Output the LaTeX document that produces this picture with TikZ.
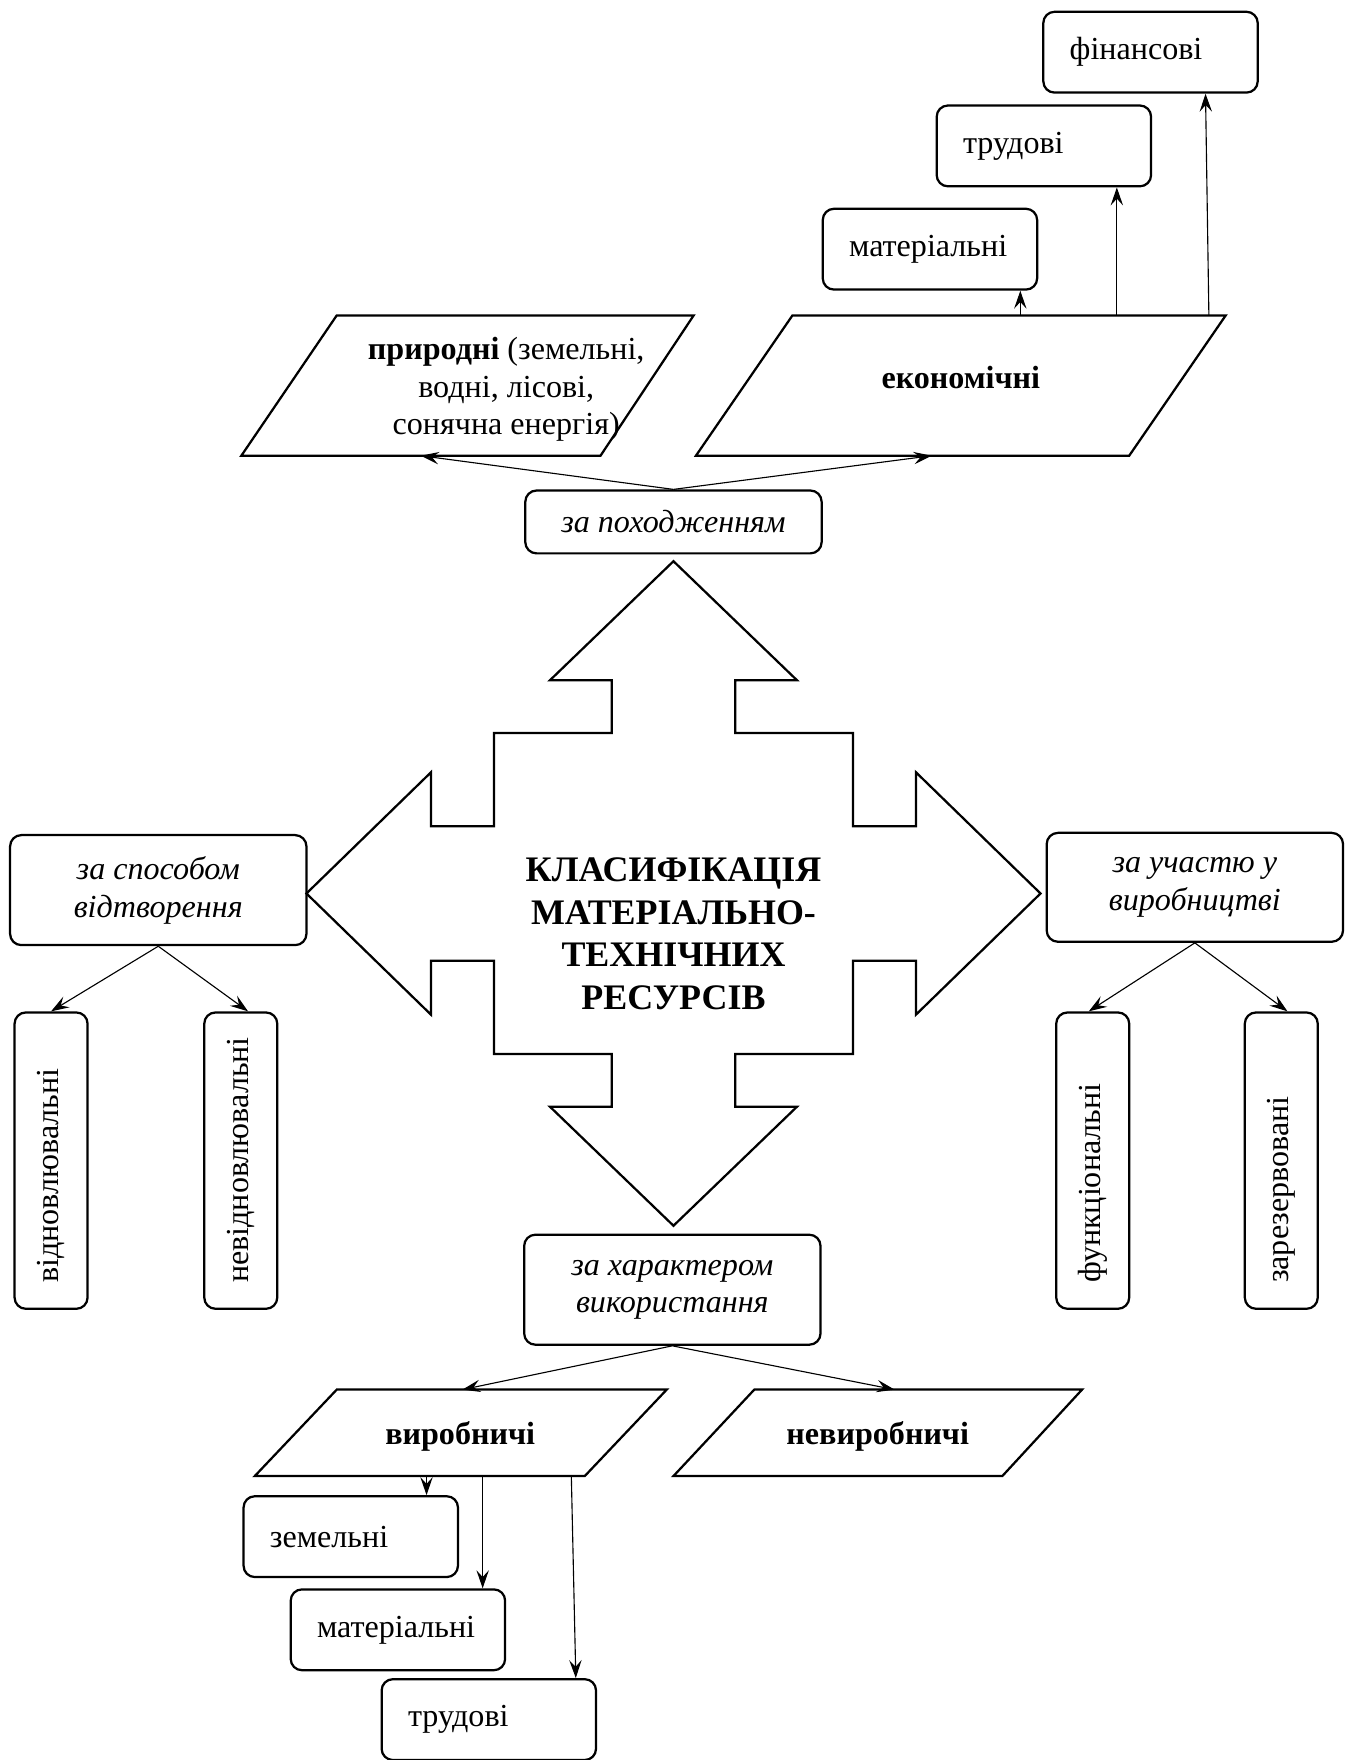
\documentclass[tikz,border=0pt]{standalone}
\usepackage{fontspec}
\setmainfont{Liberation Serif}
\usetikzlibrary{arrows.meta,calc}
\begin{document}
\begin{tikzpicture}[x=0.5pt,y=-0.5pt,
  every node/.style={font=\fontsize{14.3}{16.8}\selectfont},
  cbox/.style={draw,rounded corners=5pt,line width=1pt,align=center,font=\fontsize{14.3}{16.8}\selectfont\itshape,minimum width=132pt,inner sep=0pt},
  sbox/.style={draw,rounded corners=5pt,line width=1pt,align=left,text width=72pt,inner xsep=11.75pt,inner ysep=0pt,minimum height=36pt},
  vbox/.style={draw,rounded corners=5pt,line width=1pt,align=left,text width=109pt,inner xsep=11.5pt,inner ysep=0pt,minimum height=32.5pt,rotate=90},
  outl/.style={draw,line width=1pt,line join=miter},
  btext/.style={font=\fontsize{14.3}{16.8}\selectfont\bfseries},
  arr/.style={-{Stealth[length=8pt,width=5.5pt,inset=3pt]},line width=0.5pt}
]
\useasboundingbox (0,0) rectangle (1200,1568);

% central cross arrow
\begin{scope}[shift={(600,796)}]
\draw[outl] (0,-296) -- (110,-190) -- (55,-190) -- (55,-143) -- (160,-143) -- (160,-60) -- (216,-60) -- (216,-108) -- (327,0) -- (216,108) -- (216,60) -- (160,60) -- (160,143) -- (55,143) -- (55,190) -- (110,190) -- (0,296) -- (-110,190) -- (-55,190) -- (-55,143) -- (-160,143) -- (-160,60) -- (-216,60) -- (-216,108) -- (-327,0) -- (-216,-108) -- (-216,-60) -- (-160,-60) -- (-160,-143) -- (-55,-143) -- (-55,-190) -- (-110,-190) -- cycle;
\end{scope}
\node[font=\fontsize{16}{19}\selectfont\bfseries,align=center] (title) at (600,832) {КЛАСИФІКАЦІЯ\\МАТЕРІАЛЬНО-\\ТЕХНІЧНИХ\\РЕСУРСІВ};

% parallelograms
\draw[outl] (300,281) -- (618,281) -- (535,406) -- (215,406) -- cycle;
\draw[outl] (706,281) -- (1092,281) -- (1006,406) -- (620,406) -- cycle;
\draw[outl] (300,1238) -- (594,1238) -- (521,1315) -- (227,1315) -- cycle;
\draw[outl] (672,1238) -- (964,1238) -- (893,1315) -- (600,1315) -- cycle;
\node[align=center] (prt) at (451,347) {\textbf{природні} (земельні,\\водні, лісові,\\сонячна енергія)};
\node[btext] (ekt) at (856,336) {економічні};
\node[btext] (vyrt) at (410,1280) {виробничі};
\node[btext] (nvyrt) at (782,1280) {невиробничі};

% category boxes
\node[cbox,minimum height=28pt] (pox) at (600,465) {за походженням};
\node[cbox,minimum height=49pt] (spos) at (141,793) {за способом\\відтворення};
\node[cbox,minimum height=48.5pt] (uch) at (1064.5,790.5) {за участю у\\виробництві};
\node[cbox,minimum height=49pt] (khar) at (599,1149) {за характером\\використання};

% small boxes
\node[sbox] (fin) at (1025,46.5) {фінансові};
\node[sbox] (trud1) at (930,130) {трудові};
\node[sbox] (mat1) at (828.5,222) {матеріальні};
\node[sbox] (zem) at (312.5,1369) {земельні};
\node[sbox] (mat2) at (354.5,1452) {матеріальні};
\node[sbox] (trud2) at (435.5,1532) {трудові};

% vertical boxes
\node[vbox] (v1) at (45.5,1034) {відновлювальні};
\node[vbox] (v2) at (214.5,1034) {невідновлювальні};
\node[vbox] (f1) at (973.5,1034) {функціональні};
\node[vbox] (f2) at (1141.5,1034) {зарезервовані};

% connectors
\coordinate (prB) at (375,406);
\coordinate (ekB) at (830,406);
\draw[arr] (pox.north) -- (prB);
\draw[arr] (pox.north) -- (ekB);

\draw[arr] (spos.south) -- (v1.east);
\draw[arr] (spos.south) -- ($(v2.east)+(6.5,0)$);
\draw[arr] (uch.south) -- ($(f1.east)+(-3.5,0)$);
\draw[arr] (uch.south) -- ($(f2.east)+(5.5,0)$);

\coordinate (vyrT) at (412,1238);
\coordinate (nvyrT) at (797,1238);
\draw[arr] (khar.south) -- (vyrT);
\draw[arr] (khar.south) -- (nvyrT);

\coordinate (b1) at (380,1315);
\coordinate (b2) at (430,1315);
\coordinate (b3) at (509,1315);
\draw[arr] (b1) -- (b1 |- zem.north);
\draw[arr] (b2) -- (b2 |- mat2.north);
\draw[arr] (b3) -- ($(trud2.north)+(77.5,0)$);

\coordinate (t1) at (909,281);
\coordinate (t2) at (995,281);
\coordinate (t3) at (1077,281);
\draw[arr] (t1) -- (t1 |- mat1.south);
\draw[arr] (t2) -- (t2 |- trud1.south);
\draw[arr] (t3) -- ($(fin.south)+(49,0)$);
\end{tikzpicture}
\end{document}
